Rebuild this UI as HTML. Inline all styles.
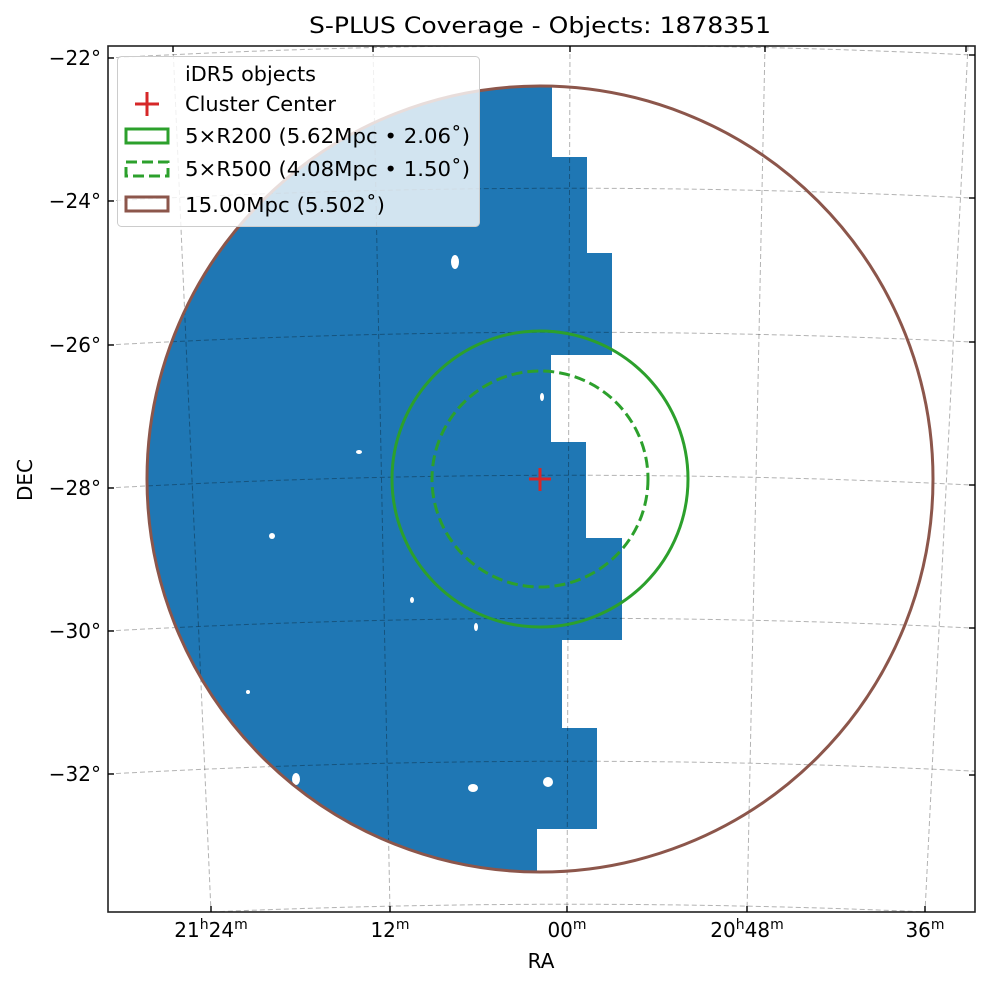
<!DOCTYPE html>
<html><head><meta charset="utf-8"><style>
html,body{margin:0;padding:0;background:#fff;}
svg{display:block;font-family:"DejaVu Sans","Liberation Sans",sans-serif;}
</style></head><body>
<svg width="988" height="986" viewBox="0 0 988 986" xmlns="http://www.w3.org/2000/svg">
<defs>
<clipPath id="circ"><circle cx="540" cy="479" r="393"/></clipPath>
<clipPath id="ax"><rect x="108" y="46" width="867" height="866"/></clipPath>
</defs>
<rect width="988" height="986" fill="#fff"/>
<text x="309" y="33" font-size="22" textLength="462" lengthAdjust="spacingAndGlyphs" fill="#000">S-PLUS Coverage - Objects: 1878351</text>
<g clip-path="url(#circ)">
<polygon fill="#1f77b4" points="100,80 552,80 552,157 587,157 587,253 612,253 612,355 551,355 551,442 586,442 586,538 622,538 622,640 562,640 562,728 597,728 597,829 537,829 537,880 100,880"/>
</g>
<g fill="#fff">
<ellipse cx="455" cy="262" rx="4" ry="7"/>
<ellipse cx="359" cy="452" rx="3" ry="2"/>
<ellipse cx="272" cy="536" rx="3" ry="3"/>
<ellipse cx="412" cy="600" rx="2" ry="3"/>
<ellipse cx="476" cy="627" rx="2" ry="4"/>
<ellipse cx="296" cy="779" rx="4" ry="6"/>
<ellipse cx="473" cy="788" rx="5" ry="4"/>
<ellipse cx="548" cy="782" rx="5" ry="5"/>
<ellipse cx="542" cy="397" rx="2" ry="4"/>
<ellipse cx="248" cy="692" rx="2" ry="2"/>
</g>
<g clip-path="url(#ax)" fill="none" stroke="#000" stroke-opacity="0.3" stroke-width="1" stroke-dasharray="5,3">
<path d="M108 58 Q541.5 34.02 975 55.14"/>
<path d="M108 201 Q541.5 177.02 975 198.14"/>
<path d="M108 345 Q541.5 321.02 975 342.14"/>
<path d="M108 488 Q541.5 464.02 975 485.14"/>
<path d="M108 631 Q541.5 607.02 975 628.14"/>
<path d="M108 774 Q541.5 750.02 975 771.14"/>
<path d="M108 917 Q541.5 893.02 975 914.14"/>
<line x1="173" y1="46" x2="211" y2="912"/>
<line x1="373" y1="46" x2="390" y2="912"/>
<line x1="570" y1="46" x2="567" y2="912"/>
<line x1="765" y1="46" x2="747" y2="912"/>
<line x1="968" y1="46" x2="925" y2="912"/>
</g>
<circle cx="540" cy="479" r="393" fill="none" stroke="#8c564b" stroke-width="3"/>
<circle cx="540" cy="479" r="148" fill="none" stroke="#2ca02c" stroke-width="3"/>
<circle cx="540" cy="479" r="108" fill="none" stroke="#2ca02c" stroke-width="3" stroke-dasharray="11,5"/>
<g stroke="#d62728" stroke-width="3"><line x1="529" y1="479" x2="551" y2="479"/><line x1="540" y1="468" x2="540" y2="491"/></g>
<rect x="117.5" y="56.5" width="362" height="170" rx="4" fill="#fff" fill-opacity="0.8" stroke="#ccc" stroke-width="1"/>
<g font-size="20" fill="#000" lengthAdjust="spacingAndGlyphs">
<text x="185" y="81" textLength="131" lengthAdjust="spacingAndGlyphs">iDR5 objects</text>
<text x="185" y="111" textLength="151" lengthAdjust="spacingAndGlyphs">Cluster Center</text>
<text x="185" y="143" textLength="285" lengthAdjust="spacingAndGlyphs">5×R200 (5.62Mpc • 2.06˚)</text>
<text x="185" y="176" textLength="285" lengthAdjust="spacingAndGlyphs">5×R500 (4.08Mpc • 1.50˚)</text>
<text x="185" y="212" textLength="200" lengthAdjust="spacingAndGlyphs">15.00Mpc (5.502˚)</text>
</g>
<g stroke="#d62728" stroke-width="3"><line x1="135" y1="104" x2="159" y2="104"/><line x1="147" y1="92" x2="147" y2="116"/></g>
<rect x="126" y="129" width="42" height="14" fill="none" stroke="#2ca02c" stroke-width="3"/>
<rect x="126" y="162" width="42" height="14" fill="none" stroke="#2ca02c" stroke-width="3" stroke-dasharray="11,5"/>
<rect x="126" y="197" width="42" height="14" fill="none" stroke="#8c564b" stroke-width="3"/>
<rect x="108" y="46" width="867" height="866" fill="none" stroke="#222" stroke-width="1.6"/>
<g stroke="#000" stroke-width="1.4">
<line x1="108" y1="58" x2="114" y2="58"/><line x1="108" y1="201" x2="114" y2="201"/><line x1="108" y1="345" x2="114" y2="345"/><line x1="108" y1="488" x2="114" y2="488"/><line x1="108" y1="631" x2="114" y2="631"/><line x1="108" y1="774" x2="114" y2="774"/>
<line x1="975" y1="55" x2="969" y2="55"/><line x1="975" y1="198" x2="969" y2="198"/><line x1="975" y1="342" x2="969" y2="342"/><line x1="975" y1="485" x2="969" y2="485"/><line x1="975" y1="628" x2="969" y2="628"/><line x1="975" y1="775" x2="969" y2="775"/>
<line x1="211" y1="912" x2="211" y2="906"/><line x1="390" y1="912" x2="390" y2="906"/><line x1="567" y1="912" x2="567" y2="906"/><line x1="747" y1="912" x2="747" y2="906"/><line x1="925" y1="912" x2="925" y2="906"/>
<line x1="173" y1="46" x2="173" y2="52"/><line x1="373" y1="46" x2="373" y2="52"/><line x1="570" y1="46" x2="570" y2="52"/><line x1="765" y1="46" x2="765" y2="52"/><line x1="966" y1="46" x2="966" y2="52"/>
</g>
<g font-size="20" fill="#000" text-anchor="end">
<text x="101" y="65">−22°</text>
<text x="101" y="208">−24°</text>
<text x="101" y="352">−26°</text>
<text x="101" y="495">−28°</text>
<text x="101" y="638">−30°</text>
<text x="101" y="781">−32°</text>
</g>
<g font-size="20" fill="#000" text-anchor="middle">
<text x="211" y="937">21<tspan font-size="14" dy="-8">h</tspan><tspan dy="8">24</tspan><tspan font-size="14" dy="-8">m</tspan></text>
<text x="390" y="937">12<tspan font-size="14" dy="-8">m</tspan></text>
<text x="567" y="937">00<tspan font-size="14" dy="-8">m</tspan></text>
<text x="747" y="937">20<tspan font-size="14" dy="-8">h</tspan><tspan dy="8">48</tspan><tspan font-size="14" dy="-8">m</tspan></text>
<text x="925" y="937">36<tspan font-size="14" dy="-8">m</tspan></text>
<text x="541" y="968">RA</text>
<text x="0" y="0" transform="translate(32,480) rotate(-90)">DEC</text>
</g>
</svg>
</body></html>
